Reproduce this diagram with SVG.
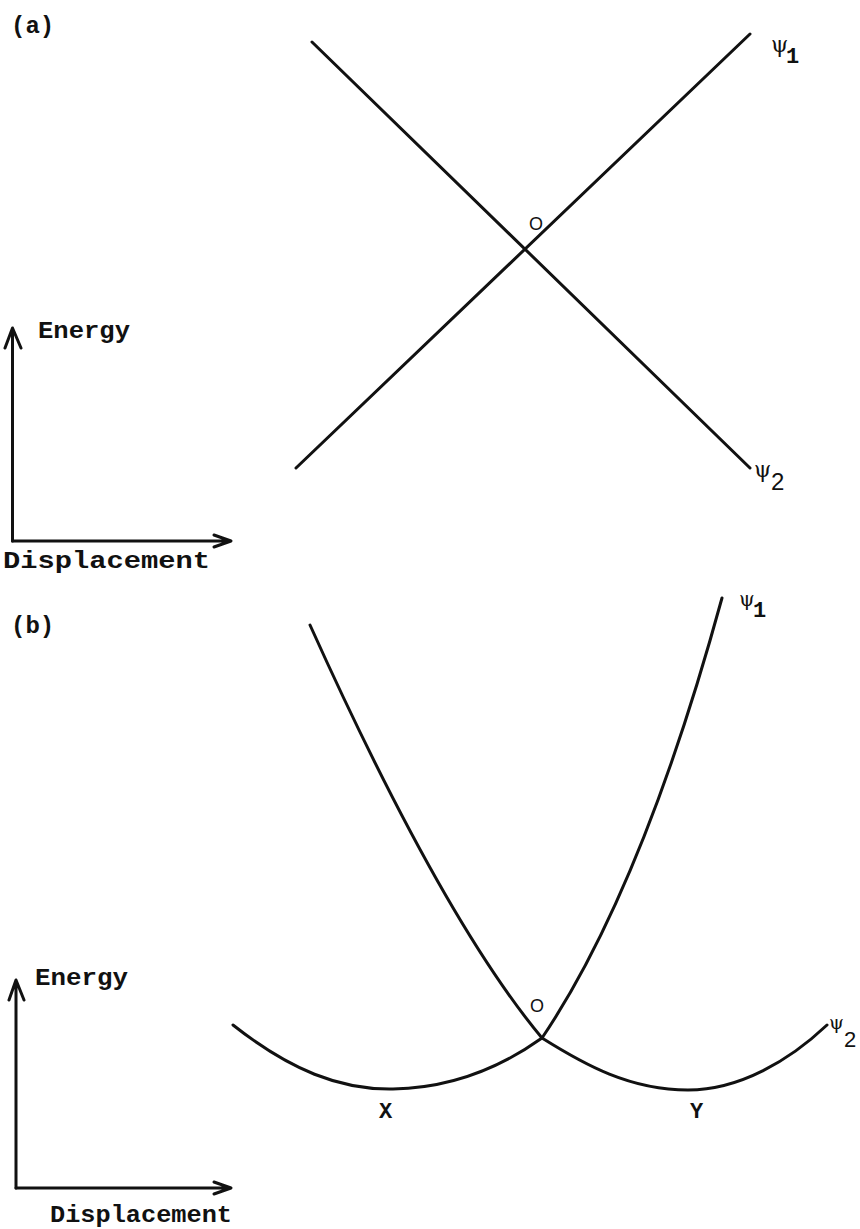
<svg xmlns="http://www.w3.org/2000/svg" width="860" height="1229" viewBox="0 0 860 1229">
<style>
.ln{fill:none;stroke:#111;stroke-width:3;stroke-linecap:round;stroke-linejoin:round}
.ax{fill:none;stroke:#111;stroke-width:3;stroke-linecap:round;stroke-linejoin:round}
.tw{font-family:"Liberation Mono","Courier New",monospace;fill:#111;font-weight:bold}
.psi{font-family:"DejaVu Serif","Liberation Serif",serif;fill:#111}
.sub{font-family:"Liberation Sans",Arial,sans-serif;fill:#111}
</style>
<rect width="860" height="1229" fill="#fff"/>
<g id="connectors">
  <path class="ln" d="M296,468 L750,34"/>
  <path class="ln" d="M312,42 L750,468"/>
  <path class="ln" d="M310,625 Q442,918 542,1038 Q642,890 722,598"/>
  <path class="ln" d="M233,1025 C290,1070 340,1090 393,1089 C450,1088 500,1068 542,1038 C585,1065 630,1090 688,1090 C740,1090 790,1060 827,1025"/>
  <path class="ax" d="M12.5,541 L12.5,330 M5,348 L12.5,328 L21,348"/>
  <path class="ax" d="M12.5,541 L230,541 M214,535 L231,541 L214,547"/>
  <path class="ax" d="M16,1188 L16,982 M9,1000 L16,980 L24,1000"/>
  <path class="ax" d="M16,1188 L230,1188 M214,1182 L231,1188 L214,1194"/>
</g>
<g id="label-a"><text class="tw" x="11" y="33" font-size="24">(a)</text></g>
<g id="label-b"><text class="tw" x="11" y="633" font-size="24">(b)</text></g>
<g id="energy-a"><text class="tw" x="38" y="338" font-size="24" textLength="92" lengthAdjust="spacingAndGlyphs">Energy</text></g>
<g id="disp-a"><text class="tw" x="3" y="568" font-size="24" textLength="207" lengthAdjust="spacingAndGlyphs">Displacement</text></g>
<g id="energy-b"><text class="tw" x="35" y="985" font-size="24" textLength="93" lengthAdjust="spacingAndGlyphs">Energy</text></g>
<g id="disp-b"><text class="tw" x="50" y="1222" font-size="24" textLength="182" lengthAdjust="spacingAndGlyphs">Displacement</text></g>
<g id="O-a"><text class="sub" x="529" y="230" font-size="18">O</text></g>
<g id="O-b"><text class="sub" x="530" y="1012" font-size="18">O</text></g>
<g id="psi1-a"><text class="psi" x="771" y="52" font-size="22">ψ</text><text class="tw" x="786" y="63" font-size="22">1</text></g>
<g id="psi2-a"><text class="psi" x="754" y="477" font-size="22">ψ</text><text class="sub" x="771" y="490" font-size="24">2</text></g>
<g id="psi1-b"><text class="psi" x="739" y="606" font-size="20">ψ</text><text class="tw" x="753" y="617" font-size="22">1</text></g>
<g id="psi2-b"><text class="psi" x="829" y="1029" font-size="19">ψ</text><text class="sub" x="844" y="1047" font-size="22">2</text></g>
<g id="X"><text class="tw" x="379" y="1118" font-size="22">X</text></g>
<g id="Y"><text class="tw" x="690" y="1118" font-size="22">Y</text></g>
</svg>
